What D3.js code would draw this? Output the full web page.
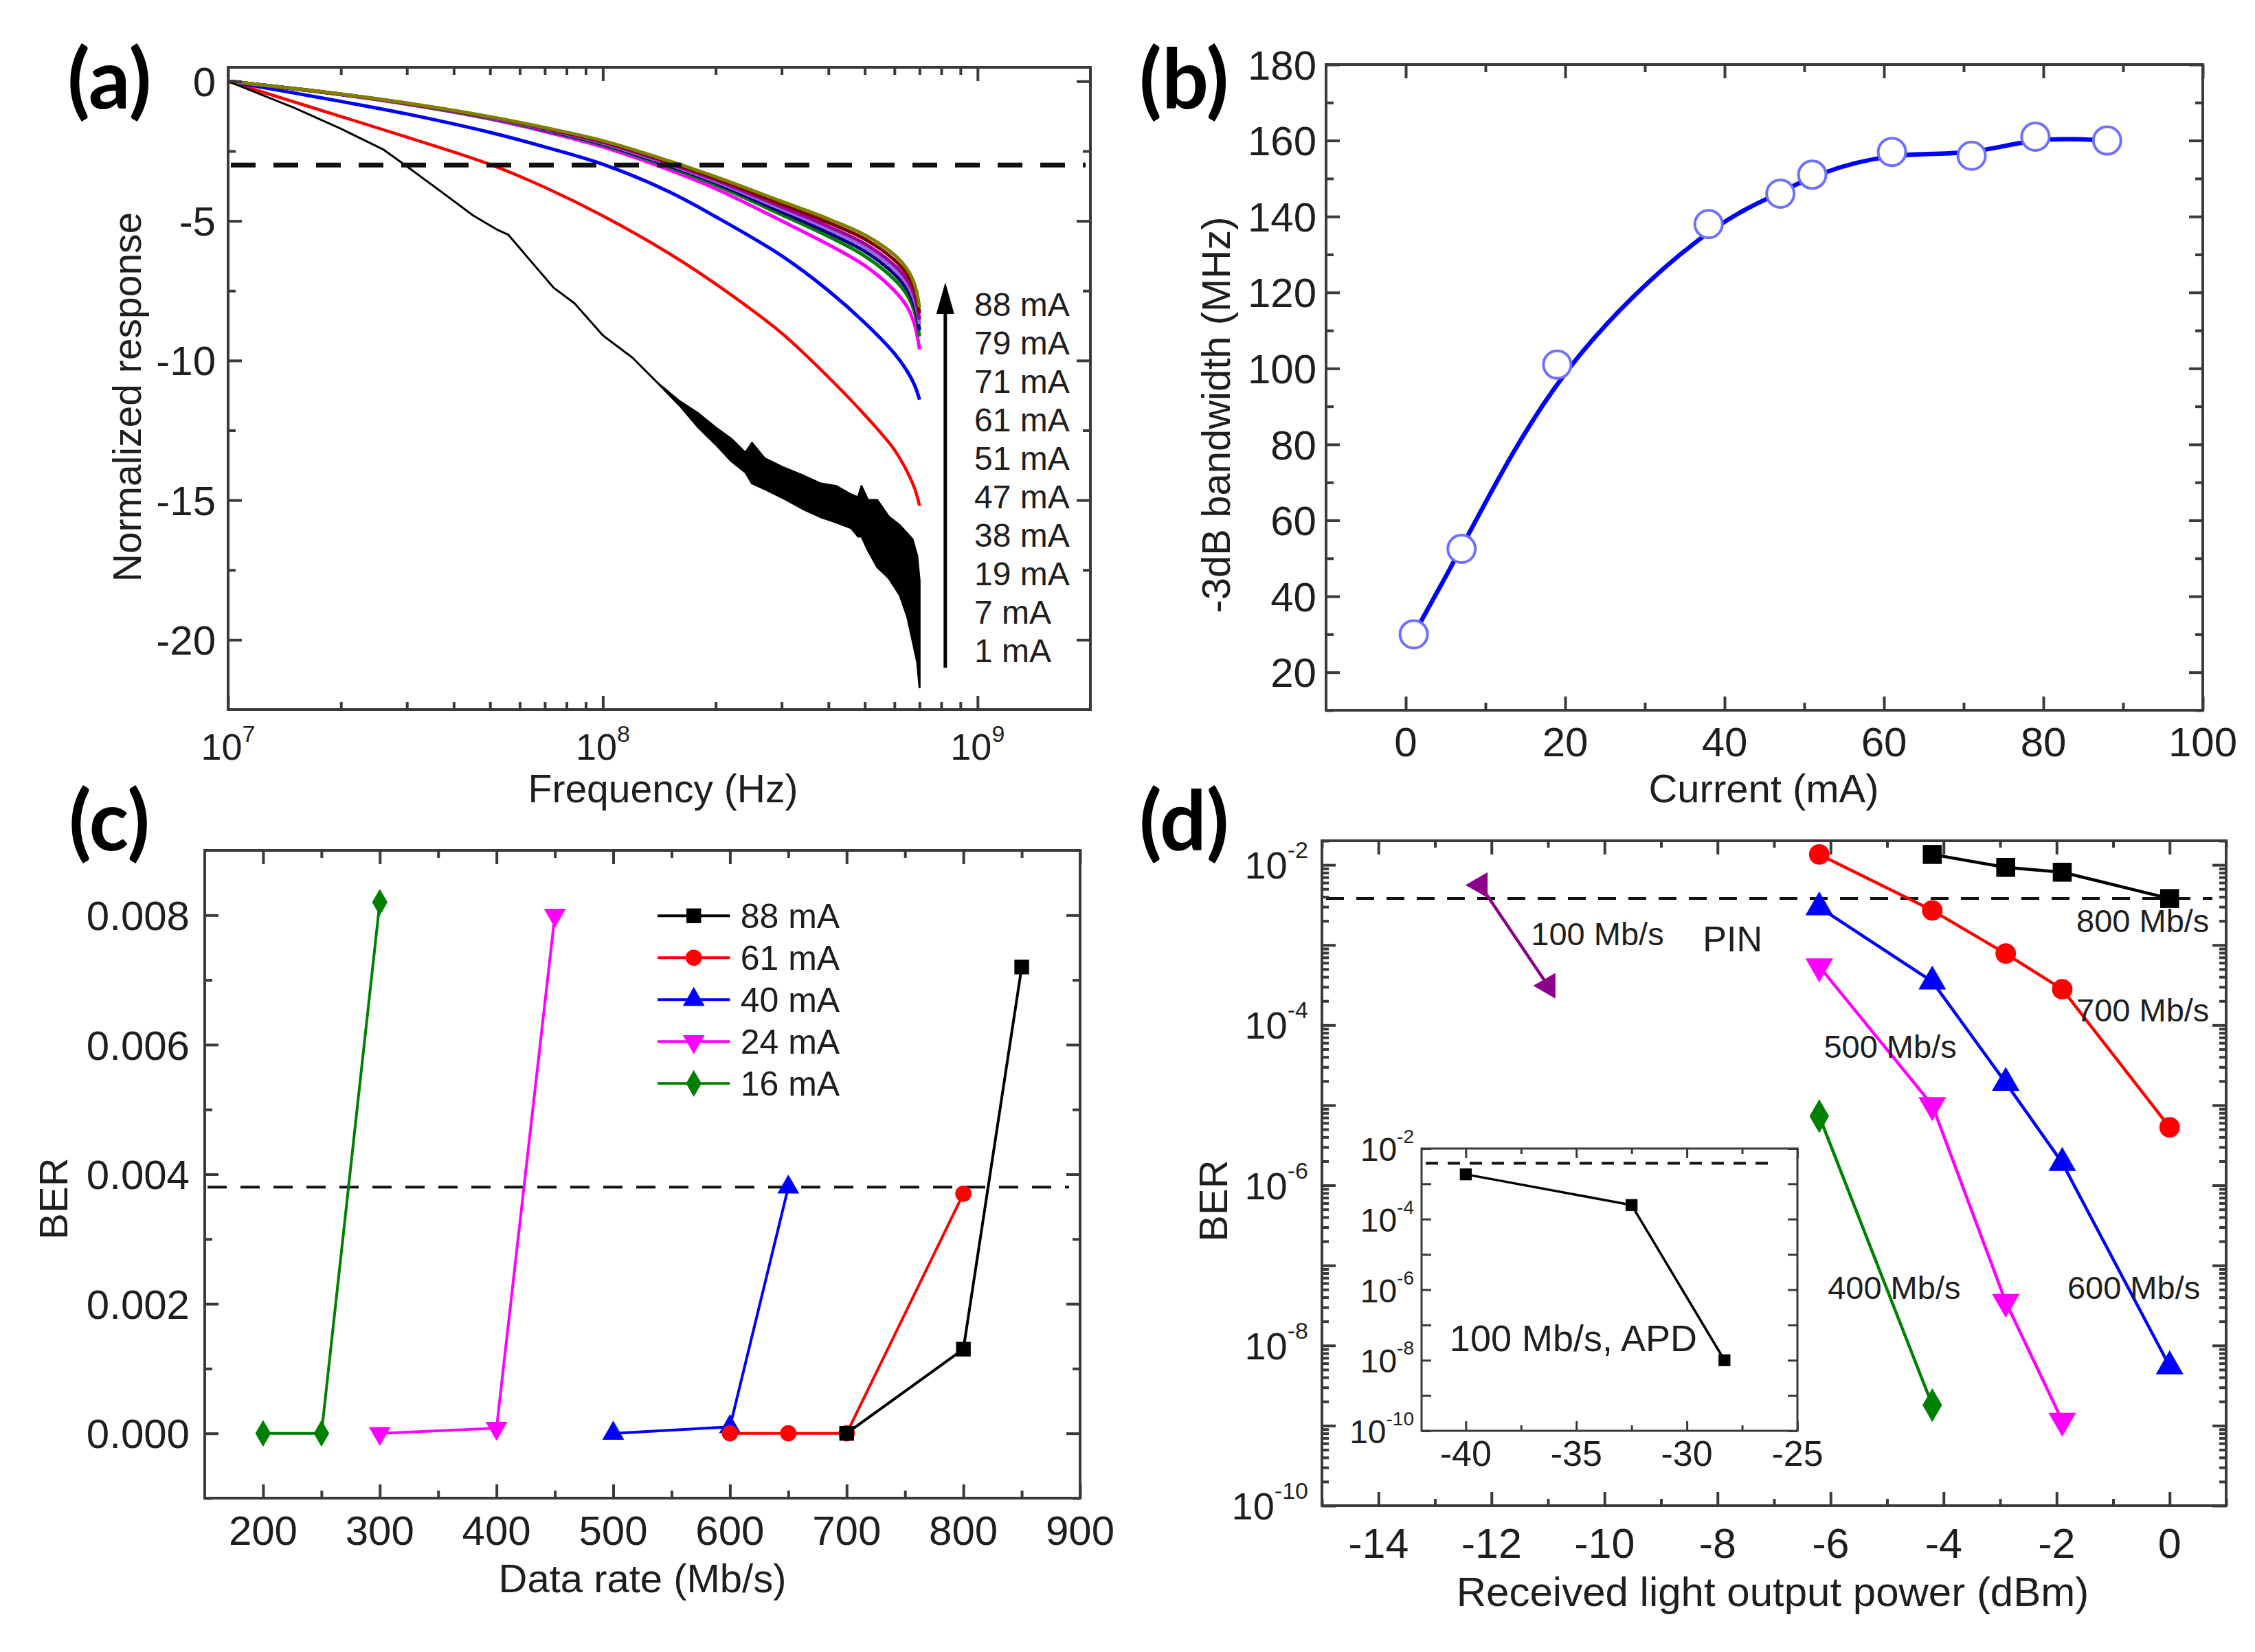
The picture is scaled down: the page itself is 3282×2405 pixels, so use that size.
<!DOCTYPE html>
<html>
<head>
<meta charset="utf-8">
<script src="https://cdn.jsdelivr.net/npm/d3@7/dist/d3.min.js"></script>
<style>
  body { margin: 0; background: #fff; }
  text { font-family: "Liberation Sans", Arial, sans-serif; fill: #1e1e1e; }
  .plabel { font-family: Lato, "Open Sans", sans-serif; font-weight: 700; fill: #000; }
</style>
</head>
<body>
<svg id="fig" width="3282" height="2405"></svg>
<script>
// ---------- (a) frequency response ----------
const freqA = [1e7, 1.5e7, 2e7, 3e7, 5e7, 7e7, 1e8, 1.5e8, 2e8, 3e8, 4e8, 5e8, 6e8, 6.5e8, 6.8e8, 7e8];
const resp7  = [0, -0.74, -1.26, -2.0, -2.98, -3.8, -4.82, -6.16, -7.26, -9.02, -10.6, -11.95, -13.2, -14.0, -14.6, -15.2];
const resp19 = [0, -0.42, -0.72, -1.17, -1.83, -2.35, -2.97, -3.95, -4.85, -6.25, -7.5, -8.65, -9.75, -10.4, -10.9, -11.4];
const resp38 = [0, -0.27, -0.48, -0.82, -1.35, -1.8, -2.35, -3.17, -3.85, -5.0, -5.85, -6.6, -7.5, -8.1, -8.75, -9.6];
const resp47 = [0, -0.27, -0.47, -0.81, -1.33, -1.76, -2.28, -3.07, -3.72, -4.78, -5.56, -6.26, -7.1, -7.68, -8.3, -9.14];
const resp51 = [0, -0.27, -0.47, -0.8, -1.31, -1.74, -2.25, -3.02, -3.65, -4.68, -5.43, -6.09, -6.91, -7.48, -8.08, -8.91];
const resp61 = [0, -0.26, -0.47, -0.8, -1.3, -1.72, -2.22, -2.98, -3.59, -4.58, -5.3, -5.94, -6.73, -7.29, -7.88, -8.7];
const resp71 = [0, -0.26, -0.47, -0.79, -1.29, -1.7, -2.19, -2.94, -3.54, -4.5, -5.2, -5.82, -6.59, -7.14, -7.72, -8.54];
const resp79 = [0, -0.26, -0.46, -0.79, -1.28, -1.68, -2.16, -2.89, -3.48, -4.4, -5.06, -5.65, -6.4, -6.94, -7.5, -8.31];
const resp88 = [0, -0.26, -0.46, -0.78, -1.27, -1.66, -2.13, -2.85, -3.42, -4.3, -4.93, -5.5, -6.22, -6.75, -7.3, -8.1];
// 1 mA trace is noisy: upper and lower edge of the black band
const freq1 = [1e7, 1.5e7, 2e7, 2.6e7, 3e7, 3.7e7, 4.5e7, 5.2e7, 5.6e7, 6.2e7, 7.4e7, 8.4e7, 1e8, 1.2e8, 1.4e8, 1.6e8,
  1.8e8, 2e8, 2.2e8, 2.4e8, 2.5e8, 2.7e8, 3e8, 3.4e8, 3.8e8, 4.2e8, 4.6e8, 4.8e8, 4.9e8, 5.1e8, 5.4e8, 5.8e8, 6.2e8, 6.5e8, 6.7e8, 6.9e8, 7e8];
const resp1Upper = [0, -0.95, -1.7, -2.45, -3.05, -3.95, -4.8, -5.3, -5.5, -6.2, -7.4, -7.95, -9.1, -9.9, -10.8, -11.45,
  -11.9, -12.4, -12.8, -13.3, -12.95, -13.5, -13.8, -14.1, -14.4, -14.5, -14.8, -14.9, -14.5, -15.0, -15.0, -15.6, -15.9, -16.2, -16.4, -17.0, -17.9];
const resp1Lower = [0, -0.95, -1.7, -2.45, -3.05, -3.95, -4.8, -5.3, -5.5, -6.2, -7.4, -7.95, -9.1, -9.9, -10.8, -11.6,
  -12.4, -13.0, -13.6, -14.0, -14.4, -14.6, -14.9, -15.3, -15.6, -15.8, -16.0, -16.3, -16.3, -16.8, -17.4, -17.8, -18.4, -19.2, -20.0, -20.8, -21.7];
const currentsA = ["1 mA", "7 mA", "19 mA", "38 mA", "47 mA", "51 mA", "61 mA", "71 mA", "79 mA", "88 mA"];
const colorsA = ["#000000", "#ff0000", "#0000ff", "#ff00ff", "#008000", "#000080", "#9a66e6", "#a000a0", "#800000", "#808000"];
const cutoffA = -3;

// ---------- (b) -3 dB bandwidth ----------
const currentB = [1, 7, 19, 38, 47, 51, 61, 71, 79, 88];
const bandwidthB = [30, 52.5, 101, 138, 146, 151, 157, 156, 161, 160];

// ---------- (c) BER vs data rate ----------
const rate88 = [700, 800, 850], ber88 = [0, 0.0013, 0.0072];
const rate61 = [600, 650, 700, 800], ber61 = [0, 0, 0, 0.0037];
const rate40 = [500, 600, 650], ber40 = [0, 0.0001, 0.0038];
const rate24 = [300, 400, 450], ber24 = [0, 0.00008, 0.008];
const rate16 = [200, 250, 300], ber16 = [0, 0, 0.0082];
const fecLimit = 0.0038;

// ---------- (d) BER vs received power ----------
const pow800 = [-4.2, -2.9, -1.9, 0], berD800 = [1.35e-2, 9.3e-3, 8.1e-3, 3.8e-3];
const pow700 = [-6.2, -4.2, -2.9, -1.9, 0], berD700 = [1.35e-2, 2.7e-3, 7.8e-4, 2.8e-4, 5.3e-6];
const pow600 = [-6.2, -4.2, -2.9, -1.9, 0], berD600 = [2.95e-3, 3.5e-4, 1.9e-5, 1.9e-6, 5.5e-9];
const pow500 = [-6.2, -4.2, -2.9, -1.9], berD500 = [5.4e-4, 1.0e-5, 3.5e-8, 1.15e-9];
const pow400 = [-6.2, -4.2], berD400 = [7.3e-6, 1.8e-9];
const pow100 = [-12.2, -11.0], berD100 = [5.6e-3, 3.1e-4];
const apdPow = [-40, -32.5, -28.3], apdBer = [1.85e-3, 2.5e-4, 1.0e-8];

const svg = d3.select("#fig");
svg.append("rect").attr("width", 3282).attr("height", 2405).attr("fill", "#fff");

const frameColor = "#3a3a3a";

function tickSide(g, scale, side, values, len, at, sw) {
  const gen = { bottom: d3.axisBottom, top: d3.axisTop, left: d3.axisLeft, right: d3.axisRight }[side];
  const axis = gen(scale).tickValues(values).tickSizeInner(-len).tickSizeOuter(0).tickFormat("");
  const tr = (side === "bottom" || side === "top") ? `translate(0,${at})` : `translate(${at},0)`;
  const a = g.append("g").attr("transform", tr).call(axis);
  a.select(".domain").remove();
  a.selectAll("line").attr("stroke", frameColor).attr("stroke-width", sw);
}

function box(g, x, y, xMaj, xMin, yMaj, yMin, maj, min, sw) {
  const [x0, x1] = x.range(), [y0, y1] = y.range();
  ["bottom", "top"].forEach(s => {
    const at = s === "bottom" ? y0 : y1;
    tickSide(g, x, s, xMaj, maj, at, sw);
    tickSide(g, x, s, xMin, min, at, sw);
  });
  ["left", "right"].forEach(s => {
    const at = s === "left" ? x0 : x1;
    tickSide(g, y, s, yMaj, maj, at, sw);
    tickSide(g, y, s, yMin, min, at, sw);
  });
  g.append("rect").attr("x", x0).attr("y", y1).attr("width", x1 - x0).attr("height", y0 - y1)
    .attr("fill", "none").attr("stroke", frameColor).attr("stroke-width", sw);
}

function xLabels(g, x, vals, base, size, fmt) {
  g.selectAll(null).data(vals).enter().append("text")
    .attr("x", d => x(d)).attr("y", base).attr("text-anchor", "middle")
    .attr("font-size", size).text(fmt);
}
function yLabels(g, y, vals, right, size, fmt) {
  g.selectAll(null).data(vals).enter().append("text")
    .attr("x", right).attr("y", d => y(d)).attr("dy", "0.36em").attr("text-anchor", "end")
    .attr("font-size", size).text(fmt);
}
function powText(sel, exp, size, supSize, raise) {
  sel.attr("font-size", size);
  sel.append("tspan").text("10");
  sel.append("tspan").attr("dy", -raise).attr("font-size", supSize).text(exp);
}
function title(g, txt, x, y, size, rot) {
  const t = g.append("text").attr("text-anchor", "middle").attr("font-size", size).text(txt);
  if (rot) t.attr("transform", `translate(${x},${y}) rotate(-90)`);
  else t.attr("x", x).attr("y", y);
  return t;
}
function dashed(g, x0, x1, yv, w, pattern) {
  g.append("line").attr("x1", x0).attr("x2", x1).attr("y1", yv).attr("y2", yv)
    .attr("stroke", "#111").attr("stroke-width", w).attr("stroke-dasharray", pattern);
}

// ===================== (a) =====================
{
  const g = svg.append("g");
  const x = d3.scaleLog().domain([1e7, 2e9]).range([332, 1587]);
  const y = d3.scaleLinear().domain([-22.5, 0.5]).range([1033, 98]);
  const minorX = [];
  [1e7, 1e8].forEach(dec => { for (let k = 2; k <= 9; k++) minorX.push(k * dec); });
  const curves = [resp7, resp19, resp38, resp47, resp51, resp61, resp71, resp79, resp88];
  const line = d3.line().x((d, i) => x(freqA[i])).y(d => y(d)).curve(d3.curveCatmullRom.alpha(0.5));
  curves.forEach((c, i) => {
    g.append("path").attr("d", line(c)).attr("fill", "none")
      .attr("stroke", colorsA[i + 1]).attr("stroke-width", i === 0 ? 4.5 : 5).attr("stroke-linejoin", "round");
  });
  const band = d3.area().x((d, i) => x(freq1[i])).y0((d, i) => y(resp1Lower[i])).y1(d => y(d))
    .curve(d3.curveLinear);
  g.append("path").attr("d", band(resp1Upper)).attr("fill", colorsA[0])
    .attr("stroke", colorsA[0]).attr("stroke-width", 3).attr("stroke-linejoin", "round");

  dashed(g, x(1e7) + 4, 1580, y(cutoffA), 7, "36 26");
  box(g, x, y, [1e7, 1e8, 1e9], minorX, [-20, -15, -10, -5, 0], [-17.5, -12.5, -7.5, -2.5], 20, 11, 4);

  yLabels(g, y, [0, -5, -10, -15, -20], 314, 60, d => String(d));
  [7, 8, 9].forEach(e => {
    const t = g.append("text").attr("x", x(Math.pow(10, e))).attr("y", 1106).attr("text-anchor", "middle");
    powText(t, String(e), 54, 34, 26);
  });
  title(g, "Frequency (Hz)", 965, 1168, 57);
  title(g, "Normalized response", 205, 578, 57, true);

  // arrow + current labels
  const ax = x(8.2e8);
  g.append("line").attr("x1", ax).attr("x2", ax).attr("y1", y(-21)).attr("y2", y(-7.2) + 40)
    .attr("stroke", "#000").attr("stroke-width", 5);
  const tip = y(-7.2);
  g.append("path").attr("d", `M${ax},${tip} L${ax - 13},${tip + 46} L${ax + 13},${tip + 46} Z`).attr("fill", "#000");
  const labelTop = y(-7.97);
  g.selectAll(null).data(currentsA.slice().reverse()).enter().append("text")
    .attr("x", x(9.8e8)).attr("y", (d, i) => labelTop + i * 56).attr("dy", "0.36em")
    .attr("font-size", 48).text(d => d);

  g.append("text").attr("class", "plabel").attr("x", 98).attr("y", 158).attr("font-size", 120).text("(a)");
}

// ===================== (b) =====================
{
  const g = svg.append("g");
  const x = d3.scaleLinear().domain([-10, 100]).range([1930, 3206]);
  const y = d3.scaleLinear().domain([10, 180]).range([1034, 94]);
  const pts = currentB.map((c, i) => [c, bandwidthB[i]]);
  g.append("path").attr("d", d3.line().x(d => x(d[0])).y(d => y(d[1])).curve(d3.curveBasis)(pts))
    .attr("fill", "none").attr("stroke", "#0000ff").attr("stroke-width", 6.5);
  g.selectAll(null).data(pts).enter().append("circle")
    .attr("cx", d => x(d[0])).attr("cy", d => y(d[1])).attr("r", 20)
    .attr("fill", "#fff").attr("stroke", "#6f6fff").attr("stroke-width", 4);

  box(g, x, y, d3.range(0, 101, 20), d3.range(10, 100, 20), d3.range(20, 181, 20), d3.range(10, 180, 20), 20, 11, 4);
  xLabels(g, x, d3.range(0, 101, 20), 1101, 60, d => String(d));
  yLabels(g, y, d3.range(20, 181, 20), 1916, 60, d => String(d));
  title(g, "Current (mA)", 2567, 1168, 58);
  title(g, "-3dB bandwidth (MHz)", 1790, 604, 58, true);
  g.append("text").attr("class", "plabel").attr("x", 1658).attr("y", 158).attr("font-size", 120).text("(b)");
}

// ===================== (c) =====================
{
  const g = svg.append("g");
  const x = d3.scaleLinear().domain([150, 900]).range([298, 1572]);
  const y = d3.scaleLinear().domain([-0.001, 0.009]).range([2181, 1238]);
  const series = [
    { name: "88 mA", xs: rate88, ys: ber88, color: "#000000", sym: d3.symbolSquare, size: 460, rot: 0 },
    { name: "61 mA", xs: rate61, ys: ber61, color: "#ff0000", sym: d3.symbolCircle, size: 440, rot: 0 },
    { name: "40 mA", xs: rate40, ys: ber40, color: "#0000ff", sym: d3.symbolTriangle, size: 440, rot: 0 },
    { name: "24 mA", xs: rate24, ys: ber24, color: "#ff00ff", sym: d3.symbolTriangle, size: 440, rot: 180 },
    { name: "16 mA", xs: rate16, ys: ber16, color: "#008000", sym: d3.symbolDiamond, size: 440, rot: 0 }
  ];
  dashed(g, 302, 1556, y(fecLimit), 4, "28 20");
  series.slice().reverse().forEach(s => {
    const pts = s.xs.map((v, i) => [v, s.ys[i]]);
    g.append("path").attr("d", d3.line().x(d => x(d[0])).y(d => y(d[1]))(pts))
      .attr("fill", "none").attr("stroke", s.color).attr("stroke-width", 4);
    g.selectAll(null).data(pts).enter().append("path")
      .attr("d", d3.symbol().type(s.sym).size(s.size))
      .attr("transform", d => `translate(${x(d[0])},${y(d[1])}) rotate(${s.rot})`)
      .attr("fill", s.color);
  });
  box(g, x, y, d3.range(200, 901, 100), d3.range(250, 900, 100),
    [0, 0.002, 0.004, 0.006, 0.008], [-0.001, 0.001, 0.003, 0.005, 0.007], 20, 11, 4);
  xLabels(g, x, d3.range(200, 901, 100), 2249, 60, d => String(d));
  yLabels(g, y, [0, 0.002, 0.004, 0.006, 0.008], 276, 60, d3.format(".3f"));
  title(g, "Data rate (Mb/s)", 935, 2318, 58);
  title(g, "BER", 98, 1745, 58, true);

  // legend
  const lx0 = x(538), lx1 = x(600), ly0 = y(0.00799);
  series.forEach((s, i) => {
    const ly = ly0 + i * 61;
    g.append("line").attr("x1", lx0).attr("x2", lx1).attr("y1", ly).attr("y2", ly)
      .attr("stroke", s.color).attr("stroke-width", 4);
    g.append("path").attr("d", d3.symbol().type(s.sym).size(s.size))
      .attr("transform", `translate(${(lx0 + lx1) / 2},${ly}) rotate(${s.rot})`).attr("fill", s.color);
    g.append("text").attr("x", x(609)).attr("y", ly).attr("dy", "0.36em").attr("font-size", 50).text(s.name);
  });
  g.append("text").attr("class", "plabel").attr("x", 100).attr("y", 1238).attr("font-size", 120).text("(c)");
}

// ===================== (d) =====================
{
  const g = svg.append("g");
  const x = d3.scaleLinear().domain([-15, 1]).range([1924, 3240]);
  const y = d3.scaleLog().domain([1e-10, 0.02]).range([2192, 1224]);
  const decades = d3.range(-10, -1).map(e => Math.pow(10, e));
  const minorY = [];
  d3.range(-10, -2).forEach(e => { for (let k = 2; k <= 9; k++) minorY.push(k * Math.pow(10, e)); });
  minorY.push(2e-2);

  const series = [
    { xs: pow800, ys: berD800, color: "#000000", sym: d3.symbolSquare, size: 760, rot: 0 },
    { xs: pow700, ys: berD700, color: "#ff0000", sym: d3.symbolCircle, size: 700, rot: 0 },
    { xs: pow600, ys: berD600, color: "#0000ff", sym: d3.symbolTriangle, size: 700, rot: 0 },
    { xs: pow500, ys: berD500, color: "#ff00ff", sym: d3.symbolTriangle, size: 700, rot: 180 },
    { xs: pow400, ys: berD400, color: "#008000", sym: d3.symbolDiamond, size: 700, rot: 0 },
    { xs: pow100, ys: berD100, color: "#8b008b", sym: d3.symbolTriangle, size: 600, rot: -90 }
  ];
  dashed(g, 1930, 3220, y(fecLimit), 4, "26 18");
  series.forEach(s => {
    const pts = s.xs.map((v, i) => [v, s.ys[i]]);
    g.append("path").attr("d", d3.line().x(d => x(d[0])).y(d => y(d[1]))(pts))
      .attr("fill", "none").attr("stroke", s.color).attr("stroke-width", 4.5);
    g.selectAll(null).data(pts).enter().append("path")
      .attr("d", d3.symbol().type(s.sym).size(s.size))
      .attr("transform", d => `translate(${x(d[0])},${y(d[1])}) rotate(${s.rot})`)
      .attr("fill", s.color);
  });
  box(g, x, y, d3.range(-14, 1, 2), d3.range(-15, 2, 2), decades, minorY, 20, 10, 4);
  xLabels(g, x, d3.range(-14, 1, 2), 2268, 61, d => String(d));
  [-2, -4, -6, -8, -10].forEach(e => {
    const t = g.append("text").attr("x", 1904).attr("y", y(Math.pow(10, e)) + 20).attr("text-anchor", "end");
    powText(t, String(e), 56, 34, 30);
  });
  title(g, "Received light output power (dBm)", 2580, 2338, 60);
  title(g, "BER", 1786, 1748, 58, true);

  const notes = [
    ["100 Mb/s", -11.3, 1.0e-3, 47], ["PIN", -8.26, 8.3e-4, 52], ["800 Mb/s", -1.65, 1.45e-3, 47],
    ["700 Mb/s", -1.65, 1.12e-4, 47], ["500 Mb/s", -6.12, 3.9e-5, 47], ["400 Mb/s", -6.05, 3.8e-8, 47],
    ["600 Mb/s", -1.81, 3.8e-8, 47]
  ];
  notes.forEach(n => g.append("text").attr("x", x(n[1])).attr("y", y(n[2])).attr("font-size", n[3]).text(n[0]));

  // inset (APD)
  const ix = d3.scaleLinear().domain([-42, -25]).range([2069, 2616]);
  const iy = d3.scaleLog().domain([1e-10, 1e-2]).range([2083, 1672]);
  g.append("rect").attr("x", 2069).attr("y", 1672).attr("width", 547).attr("height", 411).attr("fill", "#fff");
  dashed(g, 2075, 2580, iy(fecLimit), 4, "18 14");
  const ipts = apdPow.map((v, i) => [v, apdBer[i]]);
  g.append("path").attr("d", d3.line().x(d => ix(d[0])).y(d => iy(d[1]))(ipts))
    .attr("fill", "none").attr("stroke", "#000").attr("stroke-width", 3.5);
  g.selectAll(null).data(ipts).enter().append("path")
    .attr("d", d3.symbol().type(d3.symbolSquare).size(300))
    .attr("transform", d => `translate(${ix(d[0])},${iy(d[1])})`).attr("fill", "#000");
  box(g, ix, iy, [-40, -35, -30, -25], [-37.5, -32.5, -27.5],
    d3.range(-10, -1).map(e => Math.pow(10, e)), [], 14, 8, 3);
  xLabels(g, ix, [-40, -35, -30, -25], 2134, 52, d => String(d));
  [-2, -4, -6, -8, -10].forEach(e => {
    const t = g.append("text").attr("x", 2058).attr("y", iy(Math.pow(10, e)) + 18).attr("text-anchor", "end");
    powText(t, String(e), 48, 28, 26);
  });
  g.append("text").attr("x", ix(-40.73)).attr("y", iy(1.8e-8)).attr("font-size", 54).text("100 Mb/s, APD");

  g.append("text").attr("class", "plabel").attr("x", 1658).attr("y", 1238).attr("font-size", 120).text("(d)");
}
</script>
</body>
</html>
